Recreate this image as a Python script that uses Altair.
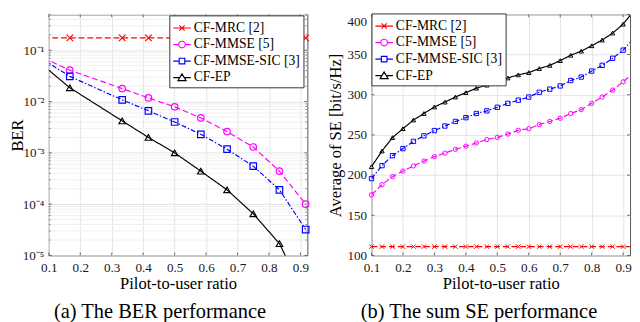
import altair as alt
import pandas as pd

FONT = "Liberation Serif"

SERIES = ["CF-MRC [2]", "CF-MMSE [5]", "CF-MMSE-SIC [3]", "CF-EP"]
COLORS = ["#ff0000", "#ff00ff", "#0000ff", "#000000"]
DASHES = [[6, 3], [6, 3], [5, 2, 1.5, 2], [1, 0]]
MARKERS = ["M-1,-1L1,1M-1,1L1,-1", "circle", "square", "triangle-up"]
LEGEND_SYMBOLS = [
    "M-1,0H1M-0.3,-0.3L0.3,0.3M-0.3,0.3L0.3,-0.3",
    "M-1,0H-0.38M0.38,0H1M0.38,0A0.38,0.38 0 1 1 -0.38,0A0.38,0.38 0 1 1 0.38,0Z",
    "M-1,0H-0.32M0.32,0H1M-0.32,-0.32H0.32V0.32H-0.32Z",
    "M-1,0H-0.3M0.3,0H1M0,-0.42L0.46,0.34L-0.46,0.34Z",
]

# ---- (a) BER vs pilot-to-user ratio ----
BER_X = [0.0833, 0.1667, 0.3333, 0.4167, 0.5, 0.5833, 0.6667, 0.75, 0.8333, 0.9167]
BER_MRC = [0.175, 0.175, 0.175, 0.175, 0.175, 0.175, 0.175, 0.175, 0.175, 0.175]
BER_MMSE = [0.070, 0.041, 0.0179, 0.0118, 0.0079, 0.0048, 0.0026, 0.0013, 0.00044, 0.0001]
BER_SIC = [0.065, 0.031, 0.0108, 0.0066, 0.0040, 0.0023, 0.00118, 0.00055, 0.00019, 0.000032]
BER_EP = [0.050, 0.0186, 0.0042, 0.0020, 0.0010, 0.00044, 0.00019, 0.000065, 0.000017, 0.0000015]

# ---- (b) sum SE vs pilot-to-user ratio ----
SE_X = [0.1, 0.1333, 0.1667, 0.2, 0.2333, 0.2667, 0.3, 0.3333, 0.3667, 0.4, 0.4333,
        0.4667, 0.5, 0.5333, 0.5667, 0.6, 0.6333, 0.6667, 0.7, 0.7333, 0.7667, 0.8,
        0.8333, 0.8667, 0.9, 0.9333]
SE_MRC = [111, 111, 111, 111, 111, 111, 111, 111, 111, 111, 111, 111, 111, 111, 111,
          111, 111, 111, 111, 111, 111, 111, 111, 111, 111, 111]
SE_MMSE = [175.5, 188.1, 198.2, 205.0, 211.5, 217.6, 223.0, 227.4, 232.1, 236.0, 240.0,
           244.3, 247.0, 251.1, 255.8, 257.8, 262.9, 266.8, 270.8, 276.7, 281.5, 289.3,
           297.2, 305.8, 316.1, 327.5]
SE_SIC = [195.7, 211.8, 224.2, 233.0, 242.0, 248.9, 255.4, 261.1, 266.8, 271.5, 276.7,
          280.0, 284.4, 289.3, 293.3, 297.2, 303.1, 307.0, 311.0, 317.7, 322.0, 329.5,
          336.6, 345.4, 355.5, 370.0]
SE_EP = [210.5, 230.0, 246.7, 257.8, 268.6, 276.7, 284.8, 290.9, 297.2, 302.7, 308.2,
         312.0, 315.5, 320.9, 324.8, 327.6, 332.6, 336.6, 342.5, 349.2, 354.3, 361.0,
         368.1, 376.8, 387.9, 404.0]

X_TICKS = [0.1, 0.2, 0.3, 0.4, 0.5, 0.6, 0.7, 0.8, 0.9]
X_DOMAIN = [0.1, 0.922]
BER_DOMAIN = [1e-5, 0.5]
BER_TICKS = [1e-5, 1e-4, 1e-3, 1e-2, 1e-1]
BER_TICK_LABELS = ["10⁻⁵", "10⁻⁴", "10⁻³", "10⁻²", "10⁻¹"]
BER_MINOR = [m * d for d in [1e-5, 1e-4, 1e-3, 1e-2] for m in range(2, 10)] + [0.2, 0.3, 0.4, 0.5]
SE_DOMAIN = [100, 400]
SE_TICKS = [100, 150, 200, 250, 300, 350, 400]

W, H = 266, 248


def long_df(xs, cols):
    rows = []
    for name, ys in zip(SERIES, cols):
        for x, y in zip(xs, ys):
            rows.append({"x": x, "y": y, "series": name})
    return pd.DataFrame(rows)


def panel(df, ytype, ydom, yticks, ylabel_expr, ytitle, caption, msize, mstroke,
          lx, ly, minor=None, label_baseline="middle", ytitle_pad=3):
    xs = alt.Scale(domain=X_DOMAIN, nice=False, zero=False)
    ys = alt.Scale(type=ytype, domain=ydom, nice=False, zero=False)
    xaxis = alt.Axis(values=X_TICKS, format=".1f", title="Pilot-to-user ratio",
                     grid=True, labelFlush=False)
    yaxis_kw = dict(values=yticks, title=ytitle, grid=True, labelBaseline=label_baseline,
                    titlePadding=ytitle_pad)
    if ylabel_expr:
        yaxis_kw["labelExpr"] = ylabel_expr
    yaxis = alt.Axis(**yaxis_kw)
    cscale = alt.Scale(domain=SERIES, range=COLORS)

    def X(f):
        return alt.X(f, scale=xs, axis=xaxis)

    def Y(f):
        return alt.Y(f, scale=ys, axis=yaxis)

    layers = []
    if minor is not None:
        mdf = pd.DataFrame({"v": minor})
        layers.append(
            alt.Chart(mdf).mark_rule(color="#efefef", strokeWidth=1)
            .encode(y=Y("v:Q"))
        )

    base = alt.Chart(df)
    lines = base.mark_line(clip=True, strokeWidth=1.2).encode(
        x=X("x:Q"),
        y=Y("y:Q"),
        color=alt.Color("series:N", scale=cscale, legend=None),
        strokeDash=alt.StrokeDash("series:N", scale=alt.Scale(domain=SERIES, range=DASHES), legend=None),
    )
    layers.append(lines)

    filt = (f"datum.x >= {X_DOMAIN[0] - 1e-6} && datum.x <= {X_DOMAIN[1]} && "
            f"datum.y >= {ydom[0]} && datum.y <= {ydom[1]}")
    points = base.transform_filter(filt).mark_point(
        filled=False, size=msize, strokeWidth=mstroke, opacity=1
    ).encode(
        x=X("x:Q"),
        y=Y("y:Q"),
        color=alt.Color("series:N", scale=cscale, legend=None),
        shape=alt.Shape("series:N", scale=alt.Scale(domain=SERIES, range=MARKERS), legend=None),
    )
    layers.append(points)

    # inward ticks on all four sides
    tick_color = "#444"
    xt = pd.DataFrame({"t": X_TICKS})
    layers.append(alt.Chart(xt).mark_rule(color=tick_color, strokeWidth=0.8).encode(
        x=X("t:Q"), y=alt.value(H), y2=alt.value(H - 3)))
    layers.append(alt.Chart(xt).mark_rule(color=tick_color, strokeWidth=0.8).encode(
        x=X("t:Q"), y=alt.value(0), y2=alt.value(3)))
    yt = pd.DataFrame({"t": yticks})
    layers.append(alt.Chart(yt).mark_rule(color=tick_color, strokeWidth=0.8).encode(
        y=Y("t:Q"), x=alt.value(0), x2=alt.value(3)))
    layers.append(alt.Chart(yt).mark_rule(color=tick_color, strokeWidth=0.8).encode(
        y=Y("t:Q"), x=alt.value(W - 3), x2=alt.value(W)))
    if minor is not None:
        mt = pd.DataFrame({"t": minor})
        layers.append(alt.Chart(mt).mark_rule(color=tick_color, strokeWidth=0.6).encode(
            y=Y("t:Q"), x=alt.value(0), x2=alt.value(2)))
        layers.append(alt.Chart(mt).mark_rule(color=tick_color, strokeWidth=0.6).encode(
            y=Y("t:Q"), x=alt.value(W - 2), x2=alt.value(W)))

    leg = alt.Legend(
        title=None, orient="none", legendX=lx, legendY=ly,
        symbolSize=324, symbolStrokeWidth=1.2, labelFont=FONT, labelFontSize=14,
        labelColor="#000000", fillColor="white", strokeColor="#333333",
        padding=3, rowPadding=-1, labelOffset=2,
    )
    legend_layer = base.transform_filter("false").mark_point(
        filled=False, strokeWidth=1.2, opacity=1
    ).encode(
        x=X("x:Q"),
        y=Y("y:Q"),
        color=alt.Color("series:N", scale=cscale, legend=leg),
        shape=alt.Shape("series:N", scale=alt.Scale(domain=SERIES, range=LEGEND_SYMBOLS), legend=leg),
    )
    layers.append(legend_layer)

    return alt.layer(*layers).resolve_scale(
        color="independent", shape="independent", strokeDash="independent"
    ).properties(
        width=W, height=H,
        title=alt.TitleParams(caption, orient="bottom", font=FONT, fontSize=21,
                              fontWeight="normal", color="#000000", anchor="middle",
                              frame="bounds", offset=10),
    )


ber_expr = ""
for t, lab in zip(BER_TICKS[:-1], BER_TICK_LABELS[:-1]):
    ber_expr += f"datum.value < {t * 3} ? '{lab}' : "
ber_expr += f"'{BER_TICK_LABELS[-1]}'"

ber_df = long_df(BER_X, [BER_MRC, BER_MMSE, BER_SIC, BER_EP])
se_df = long_df(SE_X, [SE_MRC, SE_MMSE, SE_SIC, SE_EP])

left = panel(ber_df, "log", BER_DOMAIN, BER_TICKS, ber_expr, "BER",
             "(a) The BER performance", 45, 1.2, 124, 1, minor=BER_MINOR, ytitle_pad=-5)
right = panel(se_df, "linear", SE_DOMAIN, SE_TICKS, None, "Average of SE [bit/s/Hz]",
              "(b) The sum SE performance", 20, 1.0, 0, -1,
              label_baseline={"condition": {"test": "datum.value >= 399", "value": "top"},
                              "value": "middle"})

chart = alt.hconcat(left, right, spacing=14).properties(
    padding={"left": 0, "top": 0, "right": 0, "bottom": 0}
).configure_view(
    stroke="#555555", strokeWidth=1
).configure_axis(
    labelFont=FONT, labelFontSize=13.5, labelColor="#1a1a1a",
    titleFont=FONT, titleFontSize=17, titleFontWeight="normal", titleColor="#000000",
    domain=False, ticks=False, tickSize=0, labelPadding=5, titlePadding=3,
    gridColor="#e4e4e4", gridWidth=1,
).configure_axisX(labelPadding=6, titlePadding=2)

chart.save("out.html", embed_options={"renderer": "svg", "actions": False})
